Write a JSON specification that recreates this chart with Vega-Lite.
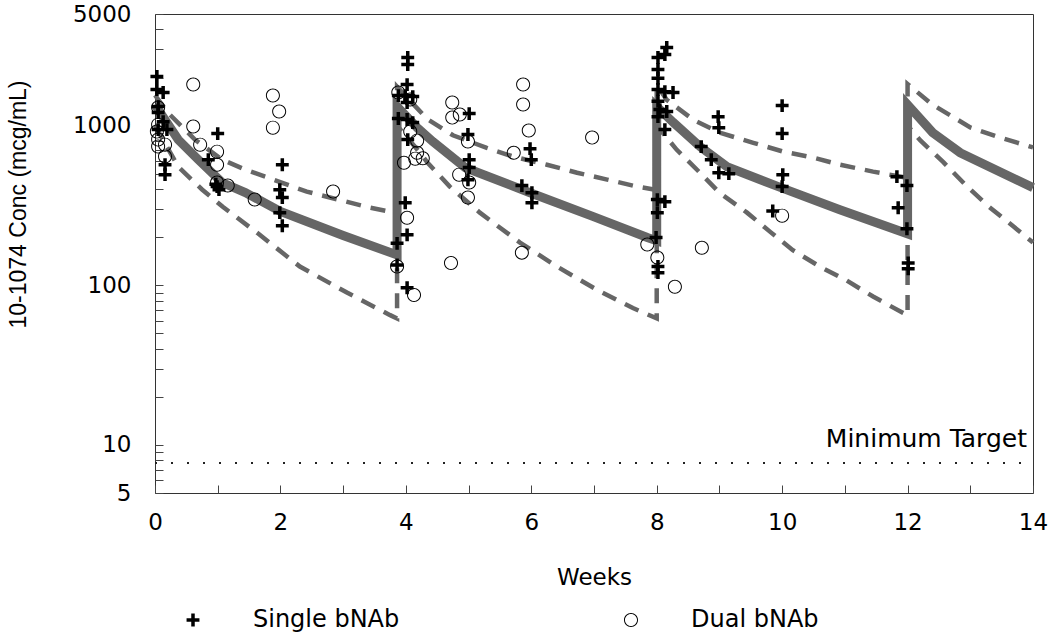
{
  "$schema": "https://vega.github.io/schema/vega-lite/v6.json",
  "width": 878,
  "height": 479,
  "autosize": {"type": "none"},
  "padding": {"left": 155, "top": 14, "right": 17, "bottom": 146},
  "background": "white",
  "datasets": {
    "curves": [
      {"s": "median", "i": 0, "w": 0, "v": 1350},
      {"s": "median", "i": 1, "w": 0.37, "v": 817},
      {"s": "median", "i": 2, "w": 0.69, "v": 612},
      {"s": "median", "i": 3, "w": 1.07, "v": 440},
      {"s": "median", "i": 4, "w": 1.44, "v": 381},
      {"s": "median", "i": 5, "w": 2.0, "v": 290},
      {"s": "median", "i": 6, "w": 3.0, "v": 205},
      {"s": "median", "i": 7, "w": 3.86, "v": 155},
      {"s": "median", "i": 8, "w": 3.86, "v": 1315},
      {"s": "median", "i": 9, "w": 4.18, "v": 970},
      {"s": "median", "i": 10, "w": 4.43, "v": 795},
      {"s": "median", "i": 11, "w": 4.95, "v": 545},
      {"s": "median", "i": 12, "w": 5.98, "v": 380},
      {"s": "median", "i": 13, "w": 6.98, "v": 270},
      {"s": "median", "i": 14, "w": 7.85, "v": 199},
      {"s": "median", "i": 15, "w": 8.0, "v": 190},
      {"s": "median", "i": 16, "w": 8.0, "v": 1315},
      {"s": "median", "i": 17, "w": 8.26, "v": 1050},
      {"s": "median", "i": 18, "w": 8.69, "v": 740},
      {"s": "median", "i": 19, "w": 9.12, "v": 553},
      {"s": "median", "i": 20, "w": 9.97, "v": 410},
      {"s": "median", "i": 21, "w": 10.92, "v": 297},
      {"s": "median", "i": 22, "w": 12.0, "v": 210},
      {"s": "median", "i": 23, "w": 12.0, "v": 1350},
      {"s": "median", "i": 24, "w": 12.4, "v": 904},
      {"s": "median", "i": 25, "w": 12.84, "v": 676},
      {"s": "median", "i": 26, "w": 14.0, "v": 409},
      {"s": "upper", "i": 0, "w": 0, "v": 1550},
      {"s": "upper", "i": 1, "w": 0.21, "v": 1200},
      {"s": "upper", "i": 2, "w": 0.64, "v": 815},
      {"s": "upper", "i": 3, "w": 1.07, "v": 612},
      {"s": "upper", "i": 4, "w": 1.44, "v": 530},
      {"s": "upper", "i": 5, "w": 2.42, "v": 386},
      {"s": "upper", "i": 6, "w": 3.43, "v": 306},
      {"s": "upper", "i": 7, "w": 3.86, "v": 283},
      {"s": "upper", "i": 8, "w": 3.86, "v": 1750},
      {"s": "upper", "i": 9, "w": 4.34, "v": 1100},
      {"s": "upper", "i": 10, "w": 4.75, "v": 870},
      {"s": "upper", "i": 11, "w": 5.29, "v": 725},
      {"s": "upper", "i": 12, "w": 5.71, "v": 640},
      {"s": "upper", "i": 13, "w": 6.25, "v": 569},
      {"s": "upper", "i": 14, "w": 6.73, "v": 507},
      {"s": "upper", "i": 15, "w": 7.21, "v": 459},
      {"s": "upper", "i": 16, "w": 7.69, "v": 415},
      {"s": "upper", "i": 17, "w": 8.0, "v": 395},
      {"s": "upper", "i": 18, "w": 8.0, "v": 1800},
      {"s": "upper", "i": 19, "w": 8.16, "v": 1450},
      {"s": "upper", "i": 20, "w": 8.58, "v": 1090},
      {"s": "upper", "i": 21, "w": 9.0, "v": 904},
      {"s": "upper", "i": 22, "w": 9.54, "v": 780},
      {"s": "upper", "i": 23, "w": 10.0, "v": 690},
      {"s": "upper", "i": 24, "w": 10.5, "v": 630},
      {"s": "upper", "i": 25, "w": 10.92, "v": 569},
      {"s": "upper", "i": 26, "w": 11.45, "v": 515},
      {"s": "upper", "i": 27, "w": 12.0, "v": 470},
      {"s": "upper", "i": 28, "w": 12.0, "v": 1820},
      {"s": "upper", "i": 29, "w": 12.4, "v": 1350},
      {"s": "upper", "i": 30, "w": 13.0, "v": 975},
      {"s": "upper", "i": 31, "w": 13.47, "v": 842},
      {"s": "upper", "i": 32, "w": 14.0, "v": 730},
      {"s": "lower", "i": 0, "w": 0, "v": 1000},
      {"s": "lower", "i": 1, "w": 0.37, "v": 553},
      {"s": "lower", "i": 2, "w": 0.75, "v": 398},
      {"s": "lower", "i": 3, "w": 1.08, "v": 310},
      {"s": "lower", "i": 4, "w": 1.63, "v": 213},
      {"s": "lower", "i": 5, "w": 2.31, "v": 131},
      {"s": "lower", "i": 6, "w": 3.06, "v": 90},
      {"s": "lower", "i": 7, "w": 3.75, "v": 65},
      {"s": "lower", "i": 8, "w": 3.86, "v": 62},
      {"s": "lower", "i": 9, "w": 3.86, "v": 1000},
      {"s": "lower", "i": 10, "w": 4.22, "v": 680},
      {"s": "lower", "i": 11, "w": 4.34, "v": 590},
      {"s": "lower", "i": 12, "w": 4.7, "v": 415},
      {"s": "lower", "i": 13, "w": 5.18, "v": 285},
      {"s": "lower", "i": 14, "w": 5.82, "v": 185},
      {"s": "lower", "i": 15, "w": 6.41, "v": 131},
      {"s": "lower", "i": 16, "w": 7.05, "v": 93.5},
      {"s": "lower", "i": 17, "w": 7.62, "v": 72},
      {"s": "lower", "i": 18, "w": 8.0, "v": 62},
      {"s": "lower", "i": 19, "w": 8.0, "v": 1000},
      {"s": "lower", "i": 20, "w": 8.32, "v": 705},
      {"s": "lower", "i": 21, "w": 8.69, "v": 507},
      {"s": "lower", "i": 22, "w": 9.0, "v": 380},
      {"s": "lower", "i": 23, "w": 9.44, "v": 285},
      {"s": "lower", "i": 24, "w": 9.81, "v": 216},
      {"s": "lower", "i": 25, "w": 10.17, "v": 166},
      {"s": "lower", "i": 26, "w": 10.6, "v": 131},
      {"s": "lower", "i": 27, "w": 11.03, "v": 107},
      {"s": "lower", "i": 28, "w": 11.45, "v": 85},
      {"s": "lower", "i": 29, "w": 11.93, "v": 67},
      {"s": "lower", "i": 30, "w": 12.0, "v": 65},
      {"s": "lower", "i": 31, "w": 12.0, "v": 1000},
      {"s": "lower", "i": 32, "w": 12.2, "v": 810},
      {"s": "lower", "i": 33, "w": 12.57, "v": 590},
      {"s": "lower", "i": 34, "w": 12.95, "v": 415},
      {"s": "lower", "i": 35, "w": 13.3, "v": 310},
      {"s": "lower", "i": 36, "w": 13.69, "v": 233},
      {"s": "lower", "i": 37, "w": 14.0, "v": 185}
    ],
    "obs": [
      {"g": "Single bNAb", "w": 0.03, "v": 2029},
      {"g": "Single bNAb", "w": 0.03, "v": 1682},
      {"g": "Single bNAb", "w": 0.13, "v": 1611},
      {"g": "Single bNAb", "w": 0.05, "v": 1315},
      {"g": "Single bNAb", "w": 0.05, "v": 1207},
      {"g": "Single bNAb", "w": 0.13, "v": 1059},
      {"g": "Single bNAb", "w": 0.05, "v": 944},
      {"g": "Single bNAb", "w": 0.19, "v": 944},
      {"g": "Single bNAb", "w": 0.16, "v": 569},
      {"g": "Single bNAb", "w": 0.16, "v": 493},
      {"g": "Single bNAb", "w": 1.0, "v": 891},
      {"g": "Single bNAb", "w": 0.85, "v": 612},
      {"g": "Single bNAb", "w": 0.99, "v": 415},
      {"g": "Single bNAb", "w": 1.02, "v": 397},
      {"g": "Single bNAb", "w": 0.97, "v": 430},
      {"g": "Single bNAb", "w": 2.03, "v": 569},
      {"g": "Single bNAb", "w": 1.99, "v": 397},
      {"g": "Single bNAb", "w": 2.03, "v": 354},
      {"g": "Single bNAb", "w": 1.99, "v": 285},
      {"g": "Single bNAb", "w": 2.03, "v": 236},
      {"g": "Single bNAb", "w": 3.99, "v": 329},
      {"g": "Single bNAb", "w": 4.02, "v": 207},
      {"g": "Single bNAb", "w": 3.86, "v": 183},
      {"g": "Single bNAb", "w": 3.86, "v": 134},
      {"g": "Single bNAb", "w": 4.02, "v": 96.5},
      {"g": "Single bNAb", "w": 4.03, "v": 2668},
      {"g": "Single bNAb", "w": 4.03, "v": 2411},
      {"g": "Single bNAb", "w": 4.02, "v": 1807},
      {"g": "Single bNAb", "w": 3.88, "v": 1542},
      {"g": "Single bNAb", "w": 3.99, "v": 1542},
      {"g": "Single bNAb", "w": 4.11, "v": 1520},
      {"g": "Single bNAb", "w": 4.02, "v": 1394},
      {"g": "Single bNAb", "w": 3.88, "v": 1107},
      {"g": "Single bNAb", "w": 4.02, "v": 1091},
      {"g": "Single bNAb", "w": 4.11, "v": 1044},
      {"g": "Single bNAb", "w": 4.03, "v": 817},
      {"g": "Single bNAb", "w": 5.01, "v": 1189},
      {"g": "Single bNAb", "w": 4.99, "v": 879},
      {"g": "Single bNAb", "w": 5.01, "v": 612},
      {"g": "Single bNAb", "w": 5.01, "v": 546},
      {"g": "Single bNAb", "w": 4.99, "v": 458},
      {"g": "Single bNAb", "w": 5.98, "v": 717},
      {"g": "Single bNAb", "w": 6.0, "v": 612},
      {"g": "Single bNAb", "w": 5.85, "v": 421},
      {"g": "Single bNAb", "w": 6.01, "v": 380},
      {"g": "Single bNAb", "w": 6.01, "v": 329},
      {"g": "Single bNAb", "w": 8.01, "v": 344},
      {"g": "Single bNAb", "w": 8.13, "v": 334},
      {"g": "Single bNAb", "w": 8.01, "v": 285},
      {"g": "Single bNAb", "w": 7.99, "v": 199},
      {"g": "Single bNAb", "w": 8.02, "v": 131},
      {"g": "Single bNAb", "w": 8.02, "v": 120},
      {"g": "Single bNAb", "w": 8.16, "v": 3083},
      {"g": "Single bNAb", "w": 8.13, "v": 2786},
      {"g": "Single bNAb", "w": 8.02, "v": 2668},
      {"g": "Single bNAb", "w": 8.02, "v": 2244},
      {"g": "Single bNAb", "w": 8.02, "v": 1980},
      {"g": "Single bNAb", "w": 8.02, "v": 1682},
      {"g": "Single bNAb", "w": 8.13, "v": 1630},
      {"g": "Single bNAb", "w": 8.26, "v": 1611},
      {"g": "Single bNAb", "w": 8.02, "v": 1420},
      {"g": "Single bNAb", "w": 8.05, "v": 1260},
      {"g": "Single bNAb", "w": 8.16, "v": 1225},
      {"g": "Single bNAb", "w": 8.02, "v": 1138},
      {"g": "Single bNAb", "w": 8.13, "v": 944},
      {"g": "Single bNAb", "w": 8.98, "v": 1138},
      {"g": "Single bNAb", "w": 8.99, "v": 971},
      {"g": "Single bNAb", "w": 8.71, "v": 739},
      {"g": "Single bNAb", "w": 8.87, "v": 612},
      {"g": "Single bNAb", "w": 8.99, "v": 507},
      {"g": "Single bNAb", "w": 9.15, "v": 500},
      {"g": "Single bNAb", "w": 10.0, "v": 1334},
      {"g": "Single bNAb", "w": 10.0, "v": 891},
      {"g": "Single bNAb", "w": 10.01, "v": 493},
      {"g": "Single bNAb", "w": 10.0, "v": 415},
      {"g": "Single bNAb", "w": 9.85, "v": 292},
      {"g": "Single bNAb", "w": 11.83, "v": 479},
      {"g": "Single bNAb", "w": 11.99, "v": 421},
      {"g": "Single bNAb", "w": 11.85, "v": 306},
      {"g": "Single bNAb", "w": 11.99, "v": 226},
      {"g": "Single bNAb", "w": 12.01, "v": 138},
      {"g": "Single bNAb", "w": 12.01, "v": 127},
      {"g": "Dual bNAb", "w": 0.61, "v": 1807},
      {"g": "Dual bNAb", "w": 0.05, "v": 1297},
      {"g": "Dual bNAb", "w": 0.05, "v": 1014},
      {"g": "Dual bNAb", "w": 0.03, "v": 917},
      {"g": "Dual bNAb", "w": 0.05, "v": 817},
      {"g": "Dual bNAb", "w": 0.05, "v": 739},
      {"g": "Dual bNAb", "w": 0.16, "v": 760},
      {"g": "Dual bNAb", "w": 0.16, "v": 640},
      {"g": "Dual bNAb", "w": 0.61, "v": 986},
      {"g": "Dual bNAb", "w": 0.72, "v": 760},
      {"g": "Dual bNAb", "w": 0.99, "v": 687},
      {"g": "Dual bNAb", "w": 0.99, "v": 569},
      {"g": "Dual bNAb", "w": 0.99, "v": 440},
      {"g": "Dual bNAb", "w": 1.16, "v": 421},
      {"g": "Dual bNAb", "w": 1.59, "v": 344},
      {"g": "Dual bNAb", "w": 1.88, "v": 1542},
      {"g": "Dual bNAb", "w": 1.98, "v": 1225},
      {"g": "Dual bNAb", "w": 1.88, "v": 971},
      {"g": "Dual bNAb", "w": 2.84, "v": 386},
      {"g": "Dual bNAb", "w": 4.02, "v": 265},
      {"g": "Dual bNAb", "w": 3.86, "v": 131},
      {"g": "Dual bNAb", "w": 4.13, "v": 87},
      {"g": "Dual bNAb", "w": 3.88, "v": 1611},
      {"g": "Dual bNAb", "w": 4.07, "v": 1455},
      {"g": "Dual bNAb", "w": 4.07, "v": 917},
      {"g": "Dual bNAb", "w": 4.18, "v": 805},
      {"g": "Dual bNAb", "w": 4.18, "v": 677},
      {"g": "Dual bNAb", "w": 4.27, "v": 625},
      {"g": "Dual bNAb", "w": 4.15, "v": 621},
      {"g": "Dual bNAb", "w": 3.97, "v": 586},
      {"g": "Dual bNAb", "w": 4.72, "v": 138},
      {"g": "Dual bNAb", "w": 4.74, "v": 1394},
      {"g": "Dual bNAb", "w": 4.74, "v": 1122},
      {"g": "Dual bNAb", "w": 4.86, "v": 1172},
      {"g": "Dual bNAb", "w": 4.99, "v": 794},
      {"g": "Dual bNAb", "w": 4.85, "v": 493},
      {"g": "Dual bNAb", "w": 5.01, "v": 440},
      {"g": "Dual bNAb", "w": 4.99, "v": 354},
      {"g": "Dual bNAb", "w": 5.87, "v": 1807},
      {"g": "Dual bNAb", "w": 5.87, "v": 1355},
      {"g": "Dual bNAb", "w": 5.96, "v": 931},
      {"g": "Dual bNAb", "w": 5.72, "v": 677},
      {"g": "Dual bNAb", "w": 5.85, "v": 160},
      {"g": "Dual bNAb", "w": 6.97, "v": 841},
      {"g": "Dual bNAb", "w": 7.85, "v": 180},
      {"g": "Dual bNAb", "w": 8.01, "v": 149},
      {"g": "Dual bNAb", "w": 8.29, "v": 98},
      {"g": "Dual bNAb", "w": 8.72, "v": 172},
      {"g": "Dual bNAb", "w": 10.0, "v": 273}
    ],
    "target": [
      {"w": 0, "w2": 14, "v": 7.7, "label": "Minimum Target"}
    ]
  },
  "encoding": {
    "x": {
      "field": "w",
      "type": "quantitative",
      "scale": {"domain": [0, 14], "nice": false, "zero": false},
      "axis": {
        "title": "Weeks",
        "values": [0, 1, 2, 3, 4, 5, 6, 7, 8, 9, 10, 11, 12, 13, 14],
        "labelExpr": "datum.value % 2 === 0 ? datum.label : ''",
        "tickSize": -8,
        "tickColor": "#444",
        "labelPadding": 26,
        "labelFlush": false,
        "labelOverlap": false,
        "domain": false,
        "grid": false,
        "labelFont": "DejaVu Sans",
        "labelFontSize": 23,
        "labelColor": "black",
        "titleFont": "DejaVu Sans",
        "titleFontSize": 23,
        "titleFontWeight": "normal",
        "titleColor": "black",
        "titleY": 84,
        "titleBaseline": "middle"
      }
    },
    "y": {
      "field": "v",
      "type": "quantitative",
      "scale": {"type": "log", "domain": [5, 5000], "nice": false},
      "axis": {
        "title": "10-1074 Conc (mcg/mL)",
        "values": [5, 6, 7, 8, 9, 10, 20, 30, 40, 50, 60, 70, 80, 90, 100, 200, 300, 400, 500, 600, 700, 800, 900, 1000, 2000, 3000, 4000, 5000],
        "format": "d",
        "labelExpr": "indexof([5, 10, 100, 1000, 5000], datum.value) >= 0 ? datum.label : ''",
        "tickSize": -8,
        "tickColor": "#444",
        "labelPadding": 32,
        "labelOverlap": false,
        "domain": false,
        "grid": false,
        "labelFont": "DejaVu Sans",
        "labelFontSize": 23,
        "labelColor": "black",
        "titleFont": "Liberation Sans",
        "titleFontSize": 23,
        "titleFontWeight": "normal",
        "titleColor": "black",
        "titleX": -137,
        "titleY": 190,
        "titleAngle": 270,
        "titleBaseline": "middle",
        "titleAlign": "center"
      }
    }
  },
  "layer": [
    {
      "data": {"name": "target"},
      "mark": {"type": "rule", "strokeDash": [2, 14], "strokeWidth": 2, "color": "#222"},
      "encoding": {"x2": {"field": "w2"}}
    },
    {
      "data": {"name": "target"},
      "mark": {"type": "text", "align": "right", "baseline": "alphabetic", "dx": -6, "dy": -16, "font": "DejaVu Sans", "fontSize": 25, "color": "black"},
      "encoding": {
        "x": {"field": "w2", "type": "quantitative"},
        "text": {"field": "label"}
      }
    },
    {
      "data": {"name": "curves"},
      "transform": [{"filter": "datum.s !== 'median'"}],
      "mark": {"type": "line", "strokeDash": [15, 10], "strokeWidth": 4.5, "color": "#666"},
      "encoding": {
        "detail": {"field": "s"},
        "order": {"field": "i", "type": "quantitative"}
      }
    },
    {
      "data": {"name": "curves"},
      "transform": [{"filter": "datum.s === 'median'"}],
      "mark": {"type": "line", "strokeWidth": 9, "color": "#666"},
      "encoding": {
        "order": {"field": "i", "type": "quantitative"}
      }
    },
    {
      "data": {"name": "obs"},
      "mark": {"type": "point", "filled": true, "opacity": 1, "size": 196, "color": "black", "strokeWidth": 0},
      "encoding": {
        "shape": {
          "field": "g",
          "type": "nominal",
          "scale": {
            "domain": ["Single bNAb", "Dual bNAb"],
            "range": [
              "M-0.92,-0.25H-0.25V-0.92H0.25V-0.25H0.92V0.25H0.25V0.92H-0.25V0.25H-0.92Z",
              "M1,0A1,1,0,1,0,-1,0A1,1,0,1,0,1,0ZM0.86,0A0.86,0.86,0,1,1,-0.86,0A0.86,0.86,0,1,1,0.86,0Z"
            ]
          },
          "legend": {
            "title": null,
            "orient": "none",
            "legendX": 26,
            "legendY": 594,
            "direction": "horizontal",
            "columns": 2,
            "padding": 0,
            "labelFont": "DejaVu Sans",
            "labelFontSize": 24,
            "labelColor": "black",
            "labelLimit": 400,
            "symbolSize": 196,
            "symbolFillColor": "black",
            "symbolStrokeWidth": 0,
            "symbolOpacity": 1,
            "labelOffset": 48,
            "columnPadding": 219
          }
        }
      }
    }
  ],
  "config": {
    "view": {"stroke": "#333", "strokeWidth": 1}
  }
}
